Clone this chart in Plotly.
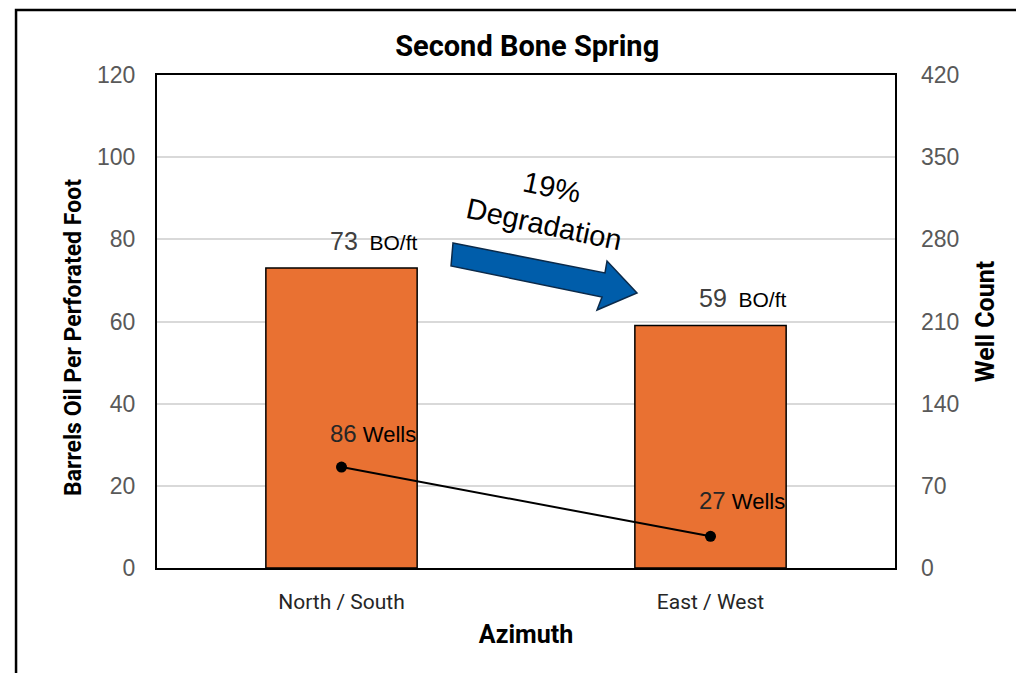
import plotly.graph_objects as go

# data
categories = ['North / South', 'East / West']
bo_per_ft  = [73, 59]
well_count = [86, 27]
left_ticks  = [0, 20, 40, 60, 80, 100, 120]
right_ticks = [0, 70, 140, 210, 280, 350, 420]

BAR_COLOR   = '#E97132'
ARROW_COLOR = '#005DAA'
TICK_COLOR  = '#595959'
COND  = 'Roboto, Liberation Sans, sans-serif'
ARIAL = 'Liberation Sans, Arial, sans-serif'

fig = go.Figure()

fig.add_trace(go.Bar(
    x=categories, y=bo_per_ft,
    marker=dict(color=BAR_COLOR, line=dict(color='black', width=1.5)),
    width=0.41, showlegend=False, hoverinfo='y'
))

fig.add_trace(go.Scatter(
    x=categories, y=well_count, yaxis='y2',
    mode='lines+markers',
    line=dict(color='black', width=2),
    marker=dict(color='black', size=11),
    showlegend=False
))

# value labels
annotations = []
for c, v, dy in zip(categories, bo_per_ft, [27, 28]):
    annotations.append(dict(
        x=c, y=v, xref='x', yref='y', yshift=dy, xshift=32, showarrow=False,
        text=f"<span style='color:#404040;font-size:25px'>{v}</span>&nbsp;&nbsp;BO/ft",
        font=dict(family=ARIAL, size=21, color='black')
    ))
for c, v, dy in zip(categories, well_count, [34, 36]):
    annotations.append(dict(
        x=c, y=v, xref='x', yref='y2', yshift=dy, xshift=31, showarrow=False,
        text=f"<span style='color:#262626;font-size:24px'>{v}</span> Wells",
        font=dict(family=ARIAL, size=22, color='black')
    ))

# degradation text
annotations.append(dict(
    x=0.530, y=0.735, xref='paper', yref='paper', showarrow=False,
    xanchor='center', yanchor='middle',
    text='19%<br>Degradation', textangle=12,
    font=dict(family=ARIAL, size=29, color='black')
))

# left axis title (sits a bit below the plot's middle)
annotations.append(dict(
    x=-0.1138, y=0.4665, xref='paper', yref='paper', showarrow=False,
    xanchor='center', yanchor='middle', textangle=-90,
    text='<b>Barrels Oil Per Perforated Foot</b>',
    font=dict(family=COND, size=23, color='black')
))

# arrow shape (paper coords)
pts = [(0.4011, 0.6592), (0.6070, 0.5984), (0.6098, 0.6227), (0.6504, 0.5578),
       (0.5962, 0.5233), (0.6030, 0.5497), (0.3984, 0.6126)]
path = 'M ' + ' L '.join(f'{x},{y}' for x, y in pts) + ' Z'

shapes = [
    dict(type='path', path=path, xref='paper', yref='paper',
         fillcolor=ARROW_COLOR, line=dict(color='#0B2A4A', width=1.5)),
    # outer frame of the chart picture
    dict(type='rect', xref='paper', yref='paper',
         x0=-0.191, x1=1.5, y0=-0.5, y1=1.132,
         line=dict(color='black', width=2.5), fillcolor='rgba(0,0,0,0)', layer='above'),
]

fig.update_layout(
    width=1024, height=673,
    margin=dict(l=149, r=137, t=67, b=113),
    paper_bgcolor='white', plot_bgcolor='white',
    title=dict(text='<b>Second Bone Spring</b>', x=0.507, xanchor='center',
               y=0.9435, yanchor='middle',
               font=dict(family=COND, size=29, color='black')),
    xaxis=dict(
        showline=True, mirror=True, linecolor='black', linewidth=2,
        ticks='', ticklabelstandoff=14,
        tickfont=dict(family=COND, size=21, color='#262626'),
        title=dict(text='<b>Azimuth</b>', font=dict(family=COND, size=25, color='black'),
                   standoff=12),
    ),
    yaxis=dict(
        range=[0, 120], tickvals=left_ticks,
        showline=True, mirror=True, linecolor='black', linewidth=2,
        showgrid=True, gridcolor='#D9D9D9', gridwidth=1.5, zeroline=False,
        ticks='', ticklabelstandoff=15,
        tickfont=dict(family=ARIAL, size=23, color=TICK_COLOR),
    ),
    yaxis2=dict(
        range=[0, 420], tickvals=right_ticks, overlaying='y', side='right',
        showgrid=False, zeroline=False, showline=False,
        ticks='', ticklabelstandoff=25,
        tickfont=dict(family=ARIAL, size=23, color=TICK_COLOR),
        title=dict(text='<b>Well Count</b>',
                   font=dict(family=COND, size=25, color='black'), standoff=18),
    ),
    annotations=annotations,
    shapes=shapes,
)

fig.write_html('out.html')
